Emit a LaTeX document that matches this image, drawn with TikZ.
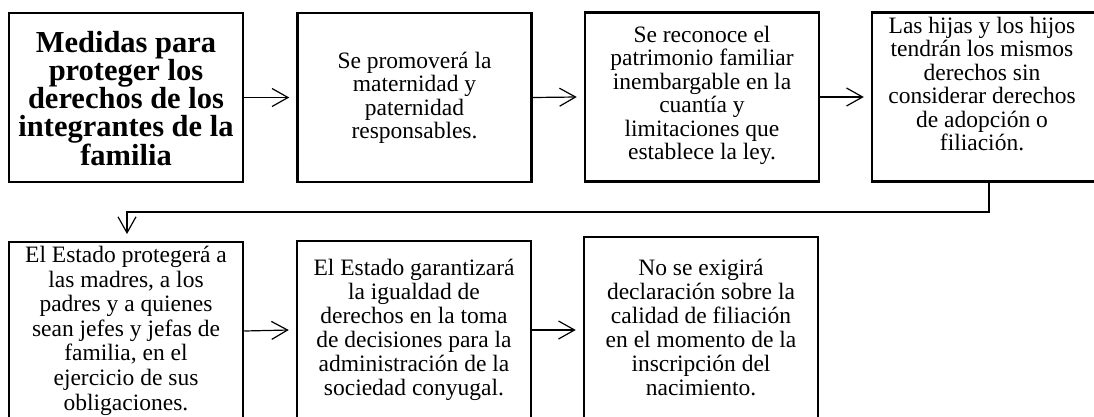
\documentclass[tikz,border=0pt]{standalone}
\usepackage{fontspec}
\setmainfont{Liberation Serif}
\usetikzlibrary{arrows.meta}
\tikzset{
  box/.style={draw=black, line width=2.5pt, rectangle, minimum width=234pt, inner sep=0pt, fill=white},
  rowone/.style={minimum height=169pt},
  rowtwo/.style={minimum height=178pt},
  txt/.style={anchor=north, inner sep=0pt, align=center, font=\fontsize{23.5}{23.4}\selectfont},
  txttwo/.style={anchor=north, inner sep=0pt, align=center, font=\fontsize{23.5}{24}\selectfont},
  ttl/.style={anchor=north, inner sep=0pt, align=center, font=\fontsize{30.5}{28}\selectfont\bfseries},
  arr/.style={line width=1.2pt, -{Straight Barb[length=16pt,width=18pt,line width=1.2pt]}}
}
\begin{document}
\begin{tikzpicture}[x=1pt,y=-1pt]
\useasboundingbox (0,0) rectangle (1094,416);
\clip (0,0) rectangle (1094,416);
\fill[white] (0,0) rectangle (1094,416);
% row 1 boxes
\node[box,rowone] (b1) at (126,97.5) {};
\node[box,rowone] (b2) at (414.5,97.5) {};
\node[box,rowone] (b3) at (702,97) {};
\node[box,rowone] (b4) at (989,97) {};
% row 2 boxes
\node[box,rowtwo] (b5) at (126,331) {};
\node[box,rowtwo] (b6) at (414,330) {};
\node[box,rowtwo,minimum height=186pt] (b7) at (701,330) {};
% texts
\node[ttl] (t1) at (126,31) {Medidas para\\proteger los\\derechos de los\\integrantes de la\\familia};
\node[txt] (t2) at (414.5,52) {Se promoverá la\\maternidad y\\paternidad\\responsables.};
\node[txt] (t3) at (702,26) {Se reconoce el\\patrimonio familiar\\inembargable en la\\cuantía y\\limitaciones que\\establece la ley.};
\node[txt] (t4) at (982,17) {Las hijas y los hijos\\tendrán los mismos\\derechos sin\\considerar derechos\\de adopción o\\filiación.};
\node[txttwo,font=\fontsize{23.5}{24.6}\selectfont] (t5) at (126,246) {El Estado protegerá a\\las madres, a los\\padres y a quienes\\sean jefes y jefas de\\familia, en el\\ejercicio de sus\\obligaciones.};
\node[txttwo] (t6) at (414,259) {El Estado garantizará\\la igualdad de\\derechos en la toma\\de decisiones para la\\administración de la\\sociedad conyugal.};
\node[txttwo] (t7) at (701,259) {No se exigirá\\declaración sobre la\\calidad de filiación\\en el momento de la\\inscripción del\\nacimiento.};
% connectors
\draw[arr] (b1.east) -- ([xshift=-7pt]b2.west);
\draw[arr] (b2.east) -- ([xshift=-7pt]b3.west);
\draw[arr] (b3.east) -- ([xshift=-7pt]b4.west);
\coordinate (turn) at (127,212);
\coordinate (down) at (127,234);
\draw[arr] (b4.south) |- (turn) -- (down);
\draw[arr] (b5.east) -- ([xshift=-7pt]b6.west);
\draw[arr] (b6.east) -- ([xshift=-7pt]b7.west);
\end{tikzpicture}
\end{document}
